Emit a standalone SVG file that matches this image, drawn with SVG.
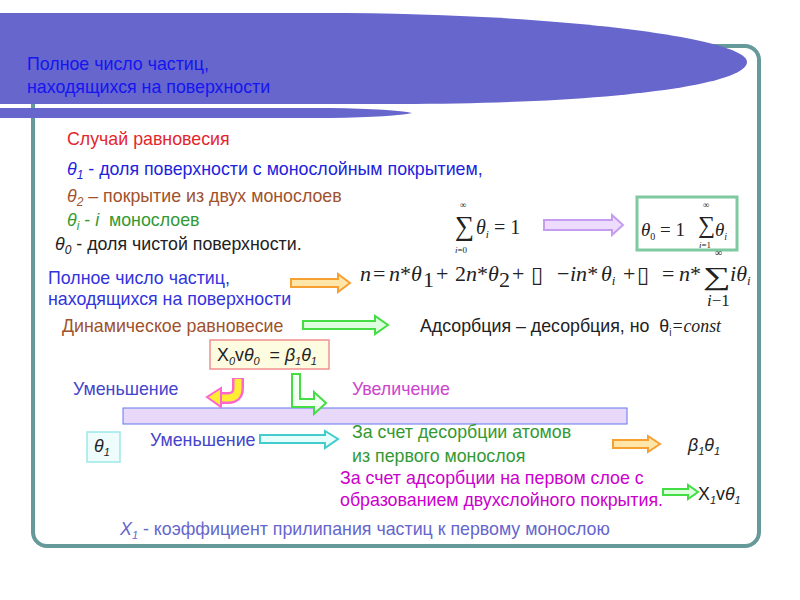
<svg xmlns="http://www.w3.org/2000/svg" width="800" height="600" viewBox="0 0 800 600">
<style>
.t{font-family:"Liberation Sans",Arial,sans-serif;font-size:17.8px}
.m{font-family:"Liberation Serif","Times New Roman",serif}
.it{font-style:italic}
.ap{fill:#eedcff;stroke:#c49cf0;stroke-width:2}
.ao{fill:#ffe6a8;stroke:#f5a030;stroke-width:2}
.ag{fill:#ddffdd;stroke:#44dd44;stroke-width:2}
.ac{fill:#e6ffff;stroke:#44cccc;stroke-width:2}
</style>
<rect width="800" height="600" fill="#ffffff"/>
<g id="frame"><rect x="33" y="46" width="726" height="500" rx="14" fill="none" stroke="#669999" stroke-width="4"/></g>
<g id="header">
<path d="M0,108 L330,108 Q395,109 412,113 Q395,117 330,118 L0,118 Z" fill="#6666CC"/>
<path d="M0,13 L320,13 C560,13 747,38 747,62 C747,86 600,104 400,104 L0,104 Z" fill="#6666CC"/>
<text class="t" x="27" y="70" fill="#1515f0">Полное число частиц,</text>
<text class="t" x="27" y="93" fill="#1515f0">находящихся на поверхности</text>
</g>
<g id="defs-text">
<text class="t" x="67" y="145" fill="#e4262c">Случай равновесия</text>
<text class="t" x="67" y="175" fill="#2222dd"><tspan class="it">θ</tspan><tspan class="it" font-size="12" dy="4">1</tspan><tspan dy="-4"> - доля поверхности с монослойным покрытием,</tspan></text>
<text class="t" x="67" y="202" fill="#a0522d"><tspan class="it">θ</tspan><tspan class="it" font-size="12" dy="4">2</tspan><tspan dy="-4"> – покрытие из двух монослоев</tspan></text>
<text class="t" x="67" y="226" fill="#339933"><tspan class="it">θ</tspan><tspan class="it" font-size="12" dy="4">i</tspan><tspan dy="-4"> - </tspan><tspan class="it">i</tspan><tspan>&#160; монослоев</tspan></text>
<text class="t" x="55" y="250" fill="#222222"><tspan class="it">θ</tspan><tspan class="it" font-size="12" dy="4">0</tspan><tspan dy="-4"> - доля чистой поверхности.</tspan></text>
</g>
<g id="sum1" class="m" fill="#222">
<text x="455" y="235" font-size="27">∑</text>
<text x="460" y="208" font-size="9">∞</text>
<text x="455" y="253" font-size="9"><tspan class="it">i</tspan>=0</text>
<text x="476" y="234" font-size="20"><tspan class="it">θ</tspan><tspan class="it" font-size="11" dy="4">i</tspan><tspan dy="-4"> = 1</tspan></text>
</g>
<g id="theta0box">
<rect x="637" y="197" width="100" height="53" fill="#ffffff" stroke="#7fc9a0" stroke-width="3"/>
<text class="m" x="641" y="236" font-size="19" fill="#222"><tspan class="it">θ</tspan><tspan font-size="10" dy="4">0</tspan><tspan dy="-4"> = 1</tspan></text>
<text class="m" x="698" y="233" font-size="24" fill="#222">∑</text>
<text class="m" x="703" y="208" font-size="9" fill="#222">∞</text>
<text class="m" x="699" y="248" font-size="9" fill="#222"><tspan class="it">i</tspan>=1</text>
<text class="m" x="715" y="236" font-size="19" fill="#222"><tspan class="it">θ</tspan><tspan class="it" font-size="10" dy="4">i</tspan></text>
</g>
<g id="total">
<text class="t" x="48" y="284" fill="#3333dd">Полное число частиц,</text>
<text class="t" x="48" y="305" fill="#3333dd">находящихся на поверхности</text>
</g>
<g id="formula" class="m" fill="#222" font-size="22">
<text y="281"><tspan x="360" class="it">n</tspan><tspan x="373">=</tspan><tspan x="389" class="it">n</tspan><tspan>*</tspan><tspan x="411" class="it">θ</tspan><tspan x="423" y="287">1</tspan><tspan x="436" y="281">+</tspan><tspan x="455">2</tspan><tspan class="it">n</tspan><tspan>*</tspan><tspan x="488" class="it">θ</tspan><tspan x="499" y="287">2</tspan><tspan x="512" y="281">+</tspan><tspan x="557">−</tspan><tspan x="570" class="it">in</tspan><tspan>*</tspan><tspan x="601" class="it">θ</tspan><tspan class="it" font-size="13" dy="4">i</tspan><tspan x="623" y="281">+</tspan><tspan x="662">=</tspan><tspan x="679" class="it">n</tspan><tspan>*</tspan><tspan x="730" class="it">i</tspan><tspan class="it">θ</tspan><tspan class="it" font-size="13" dy="4">i</tspan></text>
<text x="531" y="282" font-family="DejaVu Sans" font-size="22">▯</text>
<text x="637" y="282" font-family="DejaVu Sans" font-size="22">▯</text>
<text transform="translate(703,285) scale(1.5,1)" font-size="26">∑</text>
<text x="715" y="256" font-size="10">∞</text>
<text x="707" y="306" font-size="17"><tspan class="it">i</tspan>−1</text>
</g>
<g id="dyn">
<text class="t" x="62" y="332" fill="#a0522d">Динамическое равновесие</text>
<text class="t" x="420" y="332" fill="#222"><tspan>Адсорбция – десорбция, но&#160; θ</tspan><tspan font-size="10" dy="4">i</tspan><tspan dy="-4" class="m it">=const</tspan></text>
</g>
<g id="balance">
<rect x="210" y="340" width="119" height="29" fill="#fdfbe0" stroke="#f09090" stroke-width="1.5"/>
<text class="t" x="217" y="361" fill="#222"><tspan>Χ</tspan><tspan class="it" font-size="11" dy="4">0</tspan><tspan dy="-4">v</tspan><tspan class="it">θ</tspan><tspan class="it" font-size="11" dy="4">0</tspan><tspan dy="-4">&#160; = </tspan><tspan class="it">β</tspan><tspan class="it" font-size="11" dy="4">1</tspan><tspan dy="-4" class="it">θ</tspan><tspan class="it" font-size="11" dy="4">1</tspan></text>
</g>
<g id="labels">
<text class="t" x="73" y="395" fill="#4444cc">Уменьшение</text>
<text class="t" x="352" y="395" fill="#cc44cc">Увеличение</text>
<text class="t" x="150" y="446" fill="#4444cc">Уменьшение</text>
</g>
<g id="band"><rect x="123" y="408" width="504" height="16" fill="#e8d8fa" stroke="#6677ee" stroke-width="1"/></g>
<g id="theta1box">
<rect x="87" y="432" width="33" height="30" fill="#eefcfc" stroke="#9ee8e8" stroke-width="1.5"/>
<text class="t" x="94" y="452" fill="#222"><tspan class="it">θ</tspan><tspan class="it" font-size="11" dy="4">1</tspan></text>
</g>
<g id="desorb">
<text class="t" x="352" y="438" fill="#339933">За счет десорбции атомов</text>
<text class="t" x="352" y="462" fill="#339933">из первого монослоя</text>
<text class="t" x="688" y="451" font-size="19" fill="#222"><tspan class="it">β</tspan><tspan class="it" font-size="11" dy="4">1</tspan><tspan dy="-4" class="it">θ</tspan><tspan class="it" font-size="11" dy="4">1</tspan></text>
</g>
<g id="adsorb">
<text class="t" x="340" y="484" fill="#cc00cc">За счет адсорбции на первом слое с</text>
<text class="t" x="340" y="506" fill="#cc00cc">образованием двухслойного покрытия.</text>
<text class="t" x="698" y="500" fill="#222"><tspan>Χ</tspan><tspan class="it" font-size="11" dy="4">1</tspan><tspan dy="-4">v</tspan><tspan class="it">θ</tspan><tspan class="it" font-size="11" dy="4">1</tspan></text>
</g>
<g id="note"><text class="t" x="120" y="535" fill="#6666cc"><tspan class="it">Χ</tspan><tspan class="it" font-size="11" dy="4">1</tspan><tspan dy="-4"> - коэффициент прилипания частиц к первому монослою</tspan></text></g>
<g id="connectors">
<path class="ap" d="M544,220 L612,220 L612,215 L623,225 L612,235 L612,230 L544,230 Z"/>
<path class="ao" d="M291,279 L338,279 L338,274 L350,283 L338,292 L338,287 L291,287 Z"/>
<path class="ag" d="M303,321 L375,321 L375,316 L388,325 L375,334 L375,329 L303,329 Z"/>
<path class="ac" d="M260,435 L325,435 L325,431 L338,439 L325,448 L325,443 L260,443 Z"/>
<path class="ao" d="M613,440 L648,440 L648,436 L660,444 L648,452 L648,448 L613,448 Z"/>
<path class="ag" d="M663,489 L688,489 L688,485 L698,492 L688,499 L688,495 L663,495 Z"/>
<path d="M238,378 L238,388 Q238,398 228,398 L221,398" fill="none" stroke="#ff66cc" stroke-width="12"/>
<path d="M238,379 L238,388 Q238,398 228,398 L221,398" fill="none" stroke="#ffee33" stroke-width="7"/>
<polygon points="221,388 207,397 221,407" fill="#ffee33" stroke="#ff66cc" stroke-width="2"/>
<path class="ag" d="M292,374 L300,374 L300,399 L314,399 L314,392 L326,403 L314,414 L314,407 L292,407 Z" style="fill:#f4fff4"/>
</g>
</svg>
